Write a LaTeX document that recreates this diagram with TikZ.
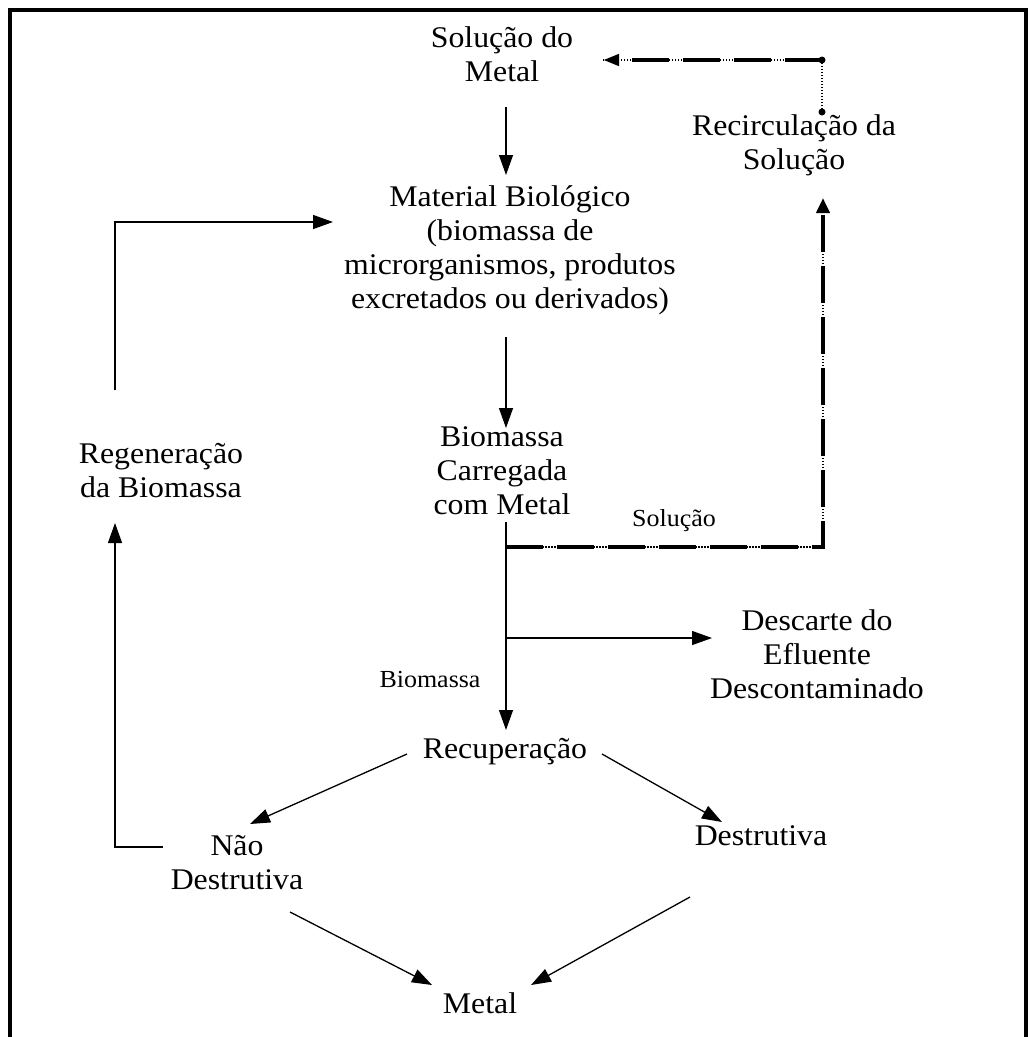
\documentclass[tikz,border=0pt]{standalone}
\usepackage{fontspec}
\setmainfont{Liberation Serif}[FakeStretch=1.06]
\usetikzlibrary{arrows.meta}
\begin{document}
\begin{tikzpicture}[x=1pt,y=-1pt,
  txt/.style={font=\fontsize{30}{34}\selectfont, align=center, inner sep=0pt, anchor=base},
  lbl/.style={font=\fontsize{24.5}{28}\selectfont, inner sep=0pt, anchor=base},
  arr/.style={line width=1.3pt, -{Triangle[length=20pt,width=14pt]}},
  thickdash/.style={line width=4pt, dash pattern=on 37pt off 14pt},
  thindot/.style={line width=1.3pt, dash pattern=on 1.5pt off 1.5pt},
  dotend/.style={circle, fill=black, inner sep=0pt, minimum size=7pt}]
\useasboundingbox (0,0) rectangle (1034,1037);
% frame
\draw[line width=4pt] (10,1037) -- (10,10) -- (1026,10) -- (1026,1037);

% nodes (positioned at the baseline of their last line)
\node[txt] (sol) at (502,81) {Solução do\\Metal};
\node[txt] (mat) at (510,308) {Material Biológico\\(biomassa de\\microrganismos, produtos\\excretados ou derivados)};
\node[txt] (bio) at (502,514) {Biomassa\\Carregada\\com Metal};
\node[txt] (rec) at (505,758) {Recuperação};
\node[txt] (desc) at (817,698) {Descarte do\\Efluente\\Descontaminado};
\node[txt] (recirc) at (794,169) {Recirculação da\\Solução};
\node[txt] (regen) at (161,497) {Regeneração\\da Biomassa};
\node[txt] (nao) at (237,889) {Não\\Destrutiva};
\node[txt] (destr) at (761,845) {Destrutiva};
\node[txt] (metal) at (480,1013) {Metal};
\node[lbl] (lsol) at (674,526) {Solução};
\node[lbl] (lbio) at (430,687) {Biomassa};

% connector end points
\coordinate (solS) at (506,107);
\coordinate (matN) at (506,175);
\coordinate (matS) at (506,337);
\coordinate (bioN) at (506,428);
\coordinate (bioS) at (506,522);
\coordinate (split) at (506,547);
\coordinate (branch) at (506,638);
\coordinate (descW) at (712,638);
\coordinate (recN) at (506,730);
\coordinate (recW) at (407,754);
\coordinate (naoN) at (250,824);
\coordinate (recE) at (602,754);
\coordinate (destrN) at (722,822);
\coordinate (naoS) at (290,912);
\coordinate (destrS) at (690,897);
\coordinate (metalW) at (432,985);
\coordinate (metalE) at (531,985);
\coordinate (naoW) at (163,847);
\coordinate (lcorner) at (115,847);
\coordinate (regenS) at (115,523);
\coordinate (regenN) at (115,390);
\coordinate (ucorner) at (115,222);
\coordinate (matW) at (333,222);
\coordinate (rcorner) at (823,547);
\coordinate (recircS) at (823,198);
\coordinate (recircN) at (822,112);
\coordinate (tcorner) at (822,60);
\coordinate (solE) at (603,60);

% connectors
\draw[arr] (solS) -- (matN);
\draw[arr] (matS) -- (bioN);
\draw[arr] (bioS) -- (recN);
\draw[arr] (branch) -- (descW);
\draw[arr] (recW) -- (naoN);
\draw[arr] (recE) -- (destrN);
\draw[arr] (naoS) -- (metalW);
\draw[arr] (destrS) -- (metalE);
\draw[arr] (naoW) -- (lcorner) -- (regenS);
\draw[arr] (regenN) -- (ucorner) -- (matW);

% recirculation (dash-dot composite)
\draw[thindot] (split) -- (rcorner) -- (recircS);
\draw[thickdash, -{Triangle[length=15pt,width=13pt]}] (split) -- (rcorner) -- (recircS);
\draw[thindot] (recircN) -- (tcorner) -- (solE);
\draw[thickdash, -{Triangle[length=16pt,width=11pt]}] (tcorner) -- (solE);
\node[dotend] at (recircN) {};
\node[dotend] at (tcorner) {};
\end{tikzpicture}
\end{document}
